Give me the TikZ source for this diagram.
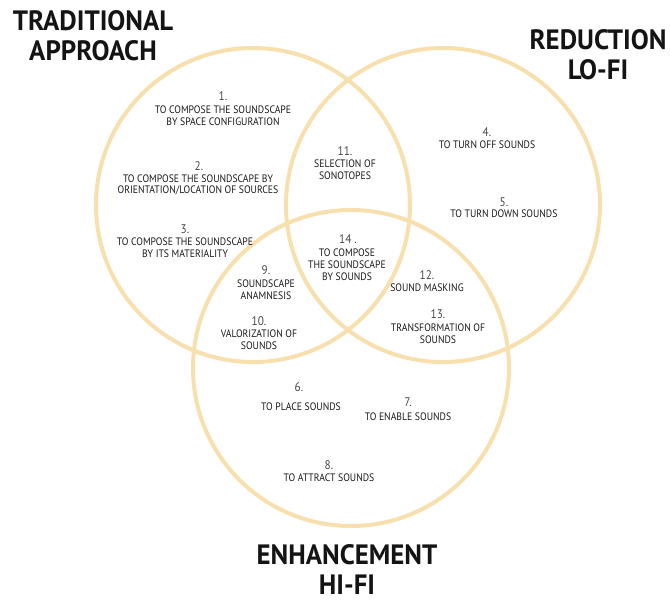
\documentclass[tikz,border=0pt]{standalone}
\usepackage{fontspec}
\setmainfont{PT Sans}
\newfontfamily\lblfont[FakeStretch=0.9]{PT Sans}
\newfontfamily\ttlfont[FakeStretch=0.96]{PT Sans}
\definecolor{ringc}{HTML}{F8DFAE}
\tikzset{
  ring/.style={draw=ringc, line width=4pt},
  lbl/.style={font=\lblfont\fontsize{10.8}{11.8}\selectfont, text=black!90, align=center, inner sep=0pt},
  num/.style={font=\lblfont\fontsize{12.5}{12.5}\selectfont, text=black!72, inner sep=0pt},
  ttl/.style={font=\ttlfont\bfseries\fontsize{28}{30}\selectfont, text=black!92, align=center, inner sep=0pt}
}
\begin{document}
\begin{tikzpicture}[x=1pt,y=-1pt]
\useasboundingbox (0,0) rectangle (670,604);
% circles
\draw[ring] (253,205) circle[radius=157];
\draw[ring] (443,205) circle[radius=157];
\draw[ring] (351,368) circle[radius=158];
% titles
\node[ttl] (trad) at (93,36) {TRADITIONAL\\APPROACH};
\node[ttl] (red) at (598,55) {REDUCTION\\LO-FI};
\node[ttl] (enh) at (347,570) {ENHANCEMENT\\HI-FI};
% labels
\node[num] (n1) at (223,96) {1.};
\node[lbl] (t1) at (223,116) {TO COMPOSE THE SOUNDSCAPE\\BY SPACE CONFIGURATION};
\node[num] (n2) at (199,166) {2.};
\node[lbl] (t2) at (198,185) {TO COMPOSE THE SOUNDSCAPE BY\\ORIENTATION/LOCATION OF SOURCES};
\node[num] (n3) at (185,229) {3.};
\node[lbl] (t3) at (185,248) {TO COMPOSE THE SOUNDSCAPE\\BY ITS MATERIALITY};
\node[num] (n4) at (487,132) {4.};
\node[lbl] (t4) at (487,145) {TO TURN OFF SOUNDS};
\node[num] (n5) at (504,202) {5.};
\node[lbl] (t5) at (504,214) {TO TURN DOWN SOUNDS};
\node[num] (n6) at (299,387) {6.};
\node[lbl] (t6) at (301,407) {TO PLACE SOUNDS};
\node[num] (n7) at (408,402) {7.};
\node[lbl] (t7) at (408,417) {TO ENABLE SOUNDS};
\node[num] (n8) at (329,465) {8.};
\node[lbl] (t8) at (329,478) {TO ATTRACT SOUNDS};
\node[num] (n9) at (266,270) {9.};
\node[lbl] (t9) at (266,290) {SOUNDSCAPE\\ANAMNESIS};
\node[num] (n10) at (259,321) {10.};
\node[lbl] (t10) at (259,340) {VALORIZATION OF\\SOUNDS};
\node[num] (n11) at (345,151) {11.};
\node[lbl] (t11) at (345,170) {SELECTION OF\\SONOTOPES};
\node[num] (n12) at (427,275) {12.};
\node[lbl] (t12) at (427,288) {SOUND MASKING};
\node[num] (n13) at (438,314) {13.};
\node[lbl] (t13) at (438,334) {TRANSFORMATION OF\\SOUNDS};
\node[num] (n14) at (348,239) {14 .};
\node[lbl] (t14) at (347,265) {TO COMPOSE\\THE SOUNDSCAPE\\BY SOUNDS};
\end{tikzpicture}
\end{document}
